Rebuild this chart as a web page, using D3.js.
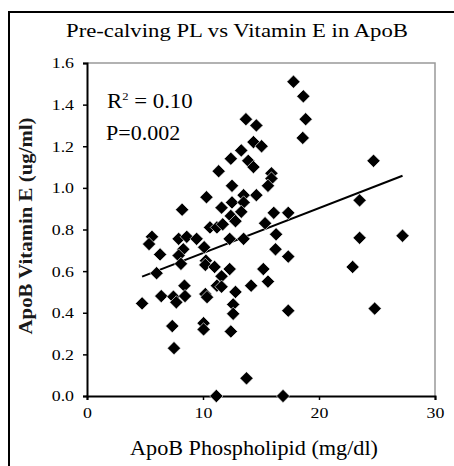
<!DOCTYPE html>
<html>
<head>
<meta charset="UTF-8">
<script src="https://d3js.org/d3.v7.min.js"></script>
<style>
  body { margin: 0; padding: 0; background: #fff; overflow: hidden; }
  text { font-family: 'Liberation Serif', 'Times New Roman', serif; fill: #000; }
</style>
</head>
<body>
<div id="chart"></div>
<script>
  // ApoB phospholipid (mg/dl) vs ApoB vitamin E (ug/ml)
  const phospholipid = [
    17.8, 18.65, 18.85, 18.6, 13.7, 14.6, 14.35, 15.05, 13.3, 12.4,
    13.9, 24.7, 14.35, 11.35, 15.9, 15.9, 15.6, 12.5, 14.6, 13.5,
    10.3, 23.5, 12.5, 13.5, 11.6, 8.2, 16.1, 17.35, 13.3, 12.4,
    12.8, 15.35, 10.6, 11.2, 11.7, 5.6, 5.35, 7.9, 8.6, 9.45,
    12.3, 13.5, 16.3, 23.5, 27.2, 10.1, 8.3, 6.3, 7.9, 16.25,
    17.35, 10.25, 8.1, 10.2, 11.0, 22.9, 15.2, 12.3, 6.0, 11.6,
    15.6, 11.2, 11.6, 14.15, 8.4, 12.8, 6.4, 7.45, 8.45, 7.7,
    10.2, 10.35, 4.75, 12.6, 17.35, 24.8, 12.6, 7.35, 10.05, 10.05,
    12.4, 7.5, 13.75, 11.15, 16.9
  ];
  const vitaminE = [
    1.51, 1.44, 1.33, 1.24, 1.33, 1.30, 1.22, 1.20, 1.18, 1.14,
    1.13, 1.13, 1.10, 1.08, 1.07, 1.045, 1.01, 1.01, 0.965, 0.965,
    0.955, 0.94, 0.93, 0.93, 0.905, 0.895, 0.88, 0.88, 0.885, 0.865,
    0.84, 0.83, 0.81, 0.81, 0.825, 0.765, 0.73, 0.755, 0.765, 0.755,
    0.755, 0.755, 0.777, 0.76, 0.77, 0.715, 0.705, 0.68, 0.675, 0.705,
    0.67, 0.65, 0.635, 0.63, 0.62, 0.62, 0.61, 0.61, 0.59, 0.575,
    0.55, 0.53, 0.525, 0.53, 0.53, 0.50, 0.48, 0.477, 0.48, 0.45,
    0.49, 0.475, 0.445, 0.44, 0.41, 0.42, 0.395, 0.336, 0.35, 0.32,
    0.31, 0.23, 0.085, 0.0, 0.0
  ];
  const xTicks = [0, 10, 20, 30];
  const yTicks = [0, 0.2, 0.4, 0.6, 0.8, 1.0, 1.2, 1.4, 1.6];
  // linear trend line as drawn
  const fitIntercept = 0.471;
  const fitSlope = 0.0216;

  const width = 454, height = 466;
  const plot = { left: 87, right: 435, top: 63, bottom: 396 };

  // the original is a bit wide-set: stretch text along its baseline
  function stretch(sel, k) {
    sel.each(function () {
      const len = this.getComputedTextLength();
      d3.select(this).attr("textLength", len * k).attr("lengthAdjust", "spacingAndGlyphs");
    });
  }

  const svg = d3.select("#chart").append("svg")
    .attr("width", width)
    .attr("height", height);

  // outer frame (runs off the right and bottom edges)
  svg.append("rect")
    .attr("x", 9).attr("y", 12)
    .attr("width", 470).attr("height", 480)
    .attr("fill", "none")
    .attr("stroke", "#000")
    .attr("stroke-width", 2);

  const x = d3.scaleLinear().domain([0, 30]).range([plot.left, plot.right]);
  const y = d3.scaleLinear().domain([0, 1.6]).range([plot.bottom, plot.top]);

  // gray top/right border of plot area
  svg.append("path")
    .attr("d", `M${plot.left},${plot.top}H${plot.right}V${plot.bottom}`)
    .attr("fill", "none")
    .attr("stroke", "#999")
    .attr("stroke-width", 1.5);

  svg.append("text")
    .attr("x", 237).attr("y", 37)
    .attr("text-anchor", "middle")
    .style("font-size", "19px")
    .attr("textLength", 342)
    .attr("lengthAdjust", "spacingAndGlyphs")
    .text("Pre-calving  PL vs Vitamin E in ApoB");

  const xAxis = svg.append("g")
    .attr("transform", `translate(0,${plot.bottom})`)
    .call(d3.axisBottom(x).tickValues(xTicks).tickSize(4).tickPadding(7).tickFormat(d3.format("d")));
  const yAxis = svg.append("g")
    .attr("transform", `translate(${plot.left},0)`)
    .call(d3.axisLeft(y).tickValues(yTicks).tickSize(4).tickPadding(9).tickFormat(d3.format(".1f")));

  [xAxis, yAxis].forEach(g => {
    g.select(".domain").attr("stroke", "#000").attr("stroke-width", 2);
    g.selectAll(".tick line").attr("stroke", "#000").attr("stroke-width", 1.5);
    g.selectAll(".tick text")
      .style("font-family", "'Liberation Serif', serif")
      .style("font-size", "15.5px")
      .attr("fill", "#000")
      .call(stretch, 1.15);
  });

  svg.append("text")
    .attr("x", 254).attr("y", 455)
    .attr("text-anchor", "middle")
    .style("font-size", "21.5px")
    .attr("textLength", 248)
    .attr("lengthAdjust", "spacingAndGlyphs")
    .text("ApoB Phospholipid (mg/dl)");

  svg.append("text")
    .attr("transform", "translate(32,226) rotate(-90)")
    .attr("text-anchor", "middle")
    .style("font-size", "18px")
    .style("font-weight", "bold")
    .style("fill", "#1a1a1a")
    .attr("textLength", 217)
    .attr("lengthAdjust", "spacingAndGlyphs")
    .text("ApoB Vitamin E (ug/ml)");

  const r2 = svg.append("text")
    .attr("x", 107).attr("y", 108)
    .style("font-size", "20px");
  r2.append("tspan").text("R");
  r2.append("tspan").attr("dy", -8).style("font-size", "11px").text("2");
  r2.append("tspan").attr("dy", 8).text(" = 0.10");
  r2.call(stretch, 1.14);

  svg.append("text")
    .attr("x", 106).attr("y", 140)
    .style("font-size", "20px")
    .text("P=0.002")
    .call(stretch, 1.1);

  // trend line across the data range
  const xr = d3.extent(phospholipid);
  svg.append("line")
    .attr("x1", x(xr[0])).attr("y1", y(fitIntercept + fitSlope * xr[0]))
    .attr("x2", x(xr[1])).attr("y2", y(fitIntercept + fitSlope * xr[1]))
    .attr("stroke", "#000")
    .attr("stroke-width", 2);

  const diamond = d3.symbol().type(d3.symbolSquare).size(88);
  svg.append("g").selectAll("path")
    .data(phospholipid.map((v, i) => [v, vitaminE[i]]))
    .enter().append("path")
    .attr("d", diamond)
    .attr("transform", d => `translate(${x(d[0])},${y(d[1])}) rotate(45)`)
    .attr("fill", "#000")
    .attr("stroke", "#fff")
    .attr("stroke-width", 0.6);
</script>
</body>
</html>
